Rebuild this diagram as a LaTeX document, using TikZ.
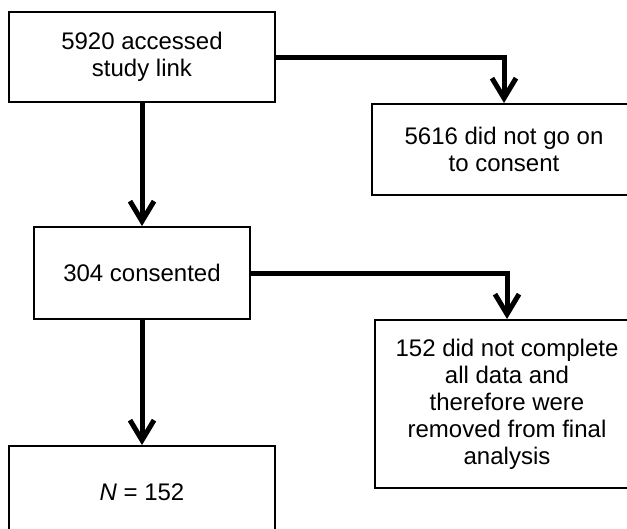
\documentclass[tikz,border=0pt]{standalone}
\usepackage{fontspec}
\setmainfont{Liberation Sans}
\usetikzlibrary{arrows.meta, positioning}

\begin{document}
\begin{tikzpicture}[
    x=1pt, y=-1pt,
    every node/.style={
        draw, line width=2pt, align=center, inner sep=0pt,
        font=\fontsize{24}{27}\selectfont
    },
    edge/.style={-{Straight Barb[length=20pt, width=24pt]}, line width=5pt},
]
\path[use as bounding box, clip] (0,0) rectangle (627,528);

% Main column
\node[minimum width=266pt, minimum height=90pt] (accessed) at (142,57) {5920 accessed\\study link};
\node[minimum width=216pt, minimum height=92pt, below=123pt of accessed] (consented) {304 consented};
\node[minimum width=266pt, minimum height=92pt, below=125pt of consented] (final) {\textit{N} = 152};

% Side column: drop-outs
\node[minimum width=264pt, minimum height=91pt, below right=0pt and 95pt of accessed] (noconsent) {5616 did not go on\\to consent};
\node[minimum width=264pt, minimum height=168pt, below right=-1pt and 123pt of consented] (removed) {152 did not complete\\all data and\\therefore were\\removed from final\\analysis};

% Edges
\draw[edge] (accessed) -- (consented);
\draw[edge] (consented) -- (final);
\draw[edge] (accessed) -| (noconsent);
\draw[edge] (consented) -| (removed);
\end{tikzpicture}
\end{document}
